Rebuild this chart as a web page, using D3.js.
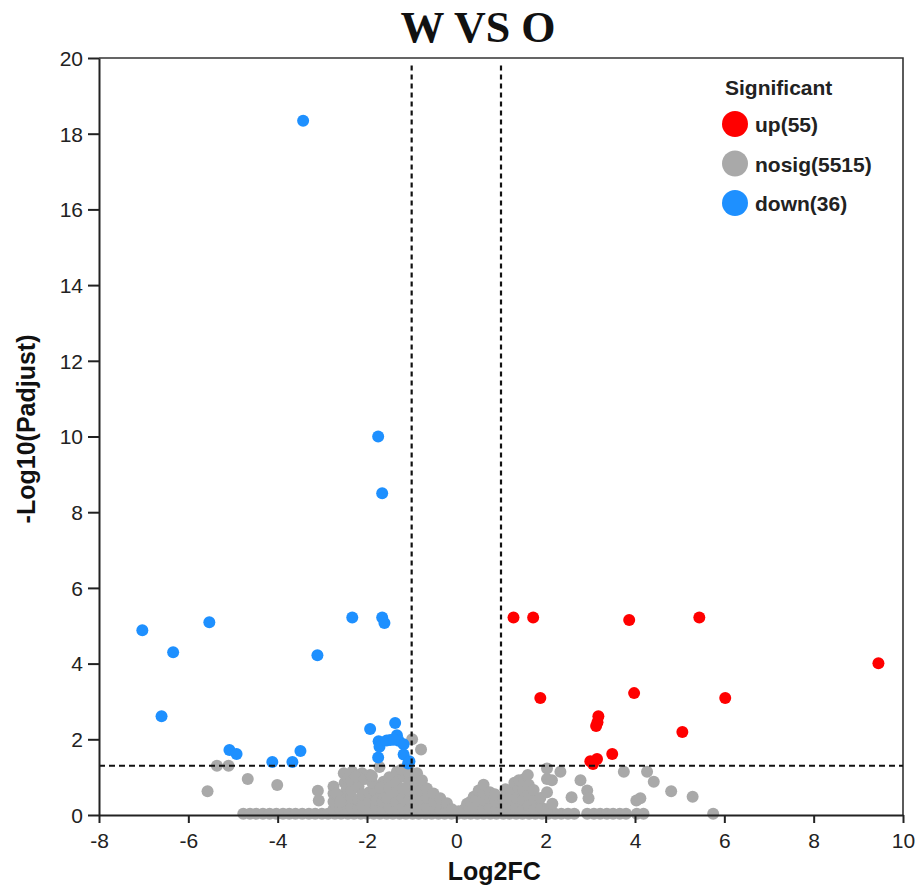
<!DOCTYPE html>
<meta charset="utf-8">
<style>
body { margin: 0; background: #fff; }
.axis text { font-family: Arial, "Liberation Sans", sans-serif; font-size: 21px; fill: #222; }
.axis path, .axis line { stroke: #222; stroke-width: 2px; }
.label { font-family: Arial, "Liberation Sans", sans-serif; font-weight: bold; font-size: 25px; fill: #111; }
.title { font-family: "Times New Roman", "Liberation Serif", serif; font-weight: bold; font-size: 44px; fill: #111; }
.legend text { font-family: Arial, "Liberation Sans", sans-serif; font-weight: bold; font-size: 21px; fill: #222; }
</style>
<svg width="919" height="886"></svg>
<script src="https://d3js.org/d3.v7.min.js"></script>
<script>

// [log2FC, -log10(Padjust)]
var downPoints = [
  [-3.43, 18.34], [-7.03, 4.88], [-5.53, 5.09], [-6.34, 4.30], [-6.60, 2.61],
  [-3.11, 4.22], [-2.33, 5.22], [-1.66, 5.22], [-1.61, 5.07], [-1.75, 10.0],
  [-1.66, 8.50], [-5.08, 1.72], [-4.92, 1.61], [-4.12, 1.40], [-3.67, 1.40],
  [-3.49, 1.69], [-1.93, 2.27], [-1.37, 2.43], [-1.74, 1.95], [-1.72, 1.80],
  [-1.48, 1.98], [-1.33, 2.11], [-1.29, 1.96], [-1.18, 1.87], [-1.18, 1.60],
  [-1.75, 1.52], [-1.08, 1.36], [-1.56, 1.97], [-1.40, 1.99], [-1.05, 1.42]
];

var upPoints = [
  [1.28, 5.22], [1.72, 5.22], [3.87, 5.15], [5.44, 5.22], [9.45, 4.01],
  [1.88, 3.09], [3.98, 3.22], [6.02, 3.09], [3.18, 2.61], [3.16, 2.45],
  [3.13, 2.35], [5.06, 2.19], [3.49, 1.61], [3.00, 1.42], [3.15, 1.48],
  [3.06, 1.35]
];

var nosigPoints = [
  // y = 0 row
  [-4.77, 0.03], [-4.62, 0.03], [-4.48, 0.03], [-4.33, 0.03], [-4.18, 0.03], [-4.03, 0.03],
  [-3.88, 0.03], [-3.74, 0.03], [-3.60, 0.03], [-3.45, 0.03], [-3.30, 0.03], [-3.16, 0.03],
  [-3.01, 0.03], [-2.87, 0.03], [-2.72, 0.03], [-2.58, 0.03], [-2.43, 0.03], [-2.29, 0.03],
  [-2.14, 0.03], [-2.00, 0.03], [-1.85, 0.03], [-1.71, 0.03], [-1.56, 0.03], [-1.42, 0.03],
  [-1.27, 0.03], [-1.13, 0.03], [-0.98, 0.03], [-0.84, 0.03], [-0.69, 0.03], [-0.55, 0.03],
  [-0.40, 0.03], [-0.26, 0.03], [-0.11, 0.03], [0.03, 0.03], [0.18, 0.03], [0.32, 0.03],
  [0.47, 0.03], [0.61, 0.03], [0.76, 0.03], [0.90, 0.03], [1.05, 0.03], [1.19, 0.03],
  [1.34, 0.03], [1.48, 0.03], [1.63, 0.03], [1.77, 0.03], [1.92, 0.03], [2.06, 0.03],
  [2.21, 0.03], [2.35, 0.03], [2.50, 0.03], [2.64, 0.03], [2.93, 0.03], [3.08, 0.03],
  [3.22, 0.03], [3.37, 0.03], [3.51, 0.03], [3.66, 0.03], [3.80, 0.03], [4.04, 0.03],
  [4.19, 0.03], [5.75, 0.03],
  // dense blob left of zero
  [-2.75, 0.15], [-2.75, 0.35], [-2.75, 0.57], [-2.75, 0.75],
  [-2.60, 0.15], [-2.60, 0.35], [-2.60, 0.50],
  [-2.50, 0.15], [-2.50, 0.30], [-2.50, 0.55], [-2.50, 0.85], [-2.52, 1.10],
  [-2.42, 0.98], [-2.45, 0.70],
  [-2.35, 0.20], [-2.35, 0.45], [-2.35, 0.65], [-2.35, 0.90], [-2.33, 1.14],
  [-2.20, 0.15], [-2.20, 0.40], [-2.19, 0.75], [-2.11, 1.10], [-2.25, 1.02],
  [-2.10, 0.25], [-2.10, 0.55], [-2.05, 0.95],
  [-1.95, 0.15], [-1.95, 0.35], [-1.95, 0.60], [-1.85, 0.66], [-1.93, 1.06],
  [-1.80, 0.20], [-1.80, 0.40], [-1.78, 0.40], [-1.88, 0.85],
  [-1.65, 0.15], [-1.65, 0.35], [-1.63, 0.55], [-1.63, 0.88], [-1.70, 0.72],
  [-1.50, 0.20], [-1.55, 0.45], [-1.50, 0.70], [-1.50, 1.00],
  [-1.35, 0.15], [-1.35, 0.35], [-1.35, 0.60], [-1.35, 0.85], [-1.33, 1.14],
  [-1.20, 0.20], [-1.20, 0.45], [-1.20, 0.70], [-1.18, 1.01], [-1.22, 1.20],
  [-1.05, 0.15], [-1.05, 0.40], [-1.05, 0.65], [-1.05, 0.90], [-1.05, 1.15],
  [-0.92, 0.20], [-0.92, 0.45], [-0.92, 0.70], [-0.92, 0.95], [-0.88, 1.10],
  [-0.78, 0.15], [-0.78, 0.40], [-0.78, 0.65], [-0.77, 0.92],
  [-0.65, 0.20], [-0.65, 0.45], [-0.66, 0.70],
  [-0.50, 0.15], [-0.50, 0.35], [-0.51, 0.57],
  [-0.36, 0.15], [-0.36, 0.30], [-0.36, 0.44],
  [-0.22, 0.12], [-0.21, 0.31], [-0.10, 0.15], [0.05, 0.10],
  // dense blob right of zero
  [0.18, 0.15], [0.24, 0.30],
  [0.30, 0.15], [0.32, 0.35], [0.39, 0.48],
  [0.45, 0.20], [0.45, 0.45], [0.50, 0.65],
  [0.60, 0.15], [0.60, 0.40], [0.61, 0.60], [0.61, 0.80],
  [0.75, 0.20], [0.75, 0.45], [0.75, 0.60],
  [0.90, 0.15], [0.88, 0.35], [0.86, 0.55],
  [1.05, 0.20], [1.05, 0.45], [1.10, 0.68],
  [1.20, 0.15], [1.20, 0.40], [1.22, 0.65], [1.30, 0.85],
  [1.35, 0.20], [1.35, 0.45], [1.40, 0.70], [1.40, 0.92],
  [1.50, 0.15], [1.50, 0.40], [1.50, 0.65], [1.52, 0.95],
  [1.62, 0.25], [1.62, 0.55], [1.62, 0.80], [1.60, 1.06],
  [1.75, 0.15], [1.75, 0.40], [1.73, 0.66],
  [1.90, 0.20], [1.88, 0.45],
  [2.03, 0.15], [2.03, 0.60], [2.03, 0.95], [2.03, 1.23],
  [2.15, 0.30], [2.14, 0.92],
  // sparse
  [2.33, 1.14], [2.58, 0.47], [2.78, 0.92], [2.93, 0.65], [2.96, 0.44],
  [3.75, 1.14], [4.03, 0.38], [4.12, 0.44], [4.27, 1.14], [4.42, 0.88],
  [4.81, 0.63], [5.29, 0.48],
  [-5.36, 1.30], [-5.10, 1.30], [-5.57, 0.63], [-4.67, 0.95], [-4.01, 0.79],
  [-3.10, 0.64], [-3.08, 0.38], [-2.69, 0.57], [-2.60, 0.35], [-1.72, 1.27],
  [-0.99, 2.00], [-0.79, 1.73], [-1.89, 1.03]
];

var groups = ["nosig", "up", "down"];
var legendLabels = ["up(55)", "nosig(5515)", "down(36)"];
var legendColors = ["#FF0000", "#A9A9A9", "#1E90FF"];
var xTicks = [-8, -6, -4, -2, 0, 2, 4, 6, 8, 10];
var yTicks = [0, 2, 4, 6, 8, 10, 12, 14, 16, 18, 20];
var fcCut = [-1, 1];
var padjCut = -Math.log10(0.05);

var svg = d3.select("svg"),
    margin = {top: 58, right: 16, bottom: 71, left: 99},
    width = +svg.attr("width") - margin.left - margin.right,
    height = +svg.attr("height") - margin.top - margin.bottom;

var x = d3.scaleLinear().domain([-8, 10]).range([0, width]),
    y = d3.scaleLinear().domain([0, 20]).range([height, 0]);

var color = d3.scaleOrdinal()
    .domain(["up", "nosig", "down"])
    .range(legendColors);

var plain = function(d) { return String(d); };

var g = svg.append("g")
    .attr("transform", "translate(" + margin.left + "," + margin.top + ")");

// top / right frame
g.append("path")
    .attr("d", "M0,0H" + width + "V" + height)
    .attr("fill", "none")
    .attr("stroke", "#333")
    .attr("stroke-width", 1.6);

var sets = {nosig: nosigPoints, up: upPoints, down: downPoints};

groups.forEach(function(key) {
  g.append("g").selectAll("circle")
    .data(sets[key])
    .enter().append("circle")
      .attr("cx", function(d) { return x(d[0]); })
      .attr("cy", function(d) { return y(d[1]); })
      .attr("r", 6)
      .attr("fill", color(key));
});

// threshold lines
g.selectAll(".vcut")
  .data(fcCut)
  .enter().append("line")
    .attr("x1", function(d) { return x(d); })
    .attr("x2", function(d) { return x(d); })
    .attr("y1", y(19.8))
    .attr("y2", height)
    .attr("stroke", "#111")
    .attr("stroke-width", 2.2)
    .attr("stroke-dasharray", "5,4");

g.append("line")
    .attr("x1", 0)
    .attr("x2", width)
    .attr("y1", y(padjCut))
    .attr("y2", y(padjCut))
    .attr("stroke", "#111")
    .attr("stroke-width", 2.2)
    .attr("stroke-dasharray", "6,4");

g.append("g")
    .attr("class", "axis")
    .attr("transform", "translate(0," + height + ")")
    .call(d3.axisBottom(x).tickValues(xTicks).tickFormat(plain)
      .tickSize(8).tickSizeOuter(0).tickPadding(9));

g.append("g")
    .attr("class", "axis")
    .call(d3.axisLeft(y).tickValues(yTicks).tickFormat(plain)
      .tickSize(11).tickSizeOuter(0).tickPadding(5));

g.selectAll(".axis .tick text").each(function() {
  var t = d3.select(this);
  if (t.attr("y") !== null && +t.attr("y") > 0) t.attr("dy", "0.75em");
  else t.attr("dy", "0.35em");
});

svg.append("text")
    .attr("class", "title")
    .attr("x", 478)
    .attr("y", 42)
    .attr("text-anchor", "middle")
    .text("W VS O");

svg.append("text")
    .attr("class", "label")
    .attr("x", margin.left + x(0.85))
    .attr("y", 880)
    .attr("text-anchor", "middle")
    .text("Log2FC");

svg.append("text")
    .attr("class", "label")
    .attr("transform", "translate(35," + (margin.top + y(10.2)) + ") rotate(-90)")
    .attr("text-anchor", "middle")
    .text("-Log10(Padjust)");

var legend = svg.append("g")
    .attr("class", "legend")
    .attr("transform", "translate(725,95)");

legend.append("text")
    .attr("x", 0)
    .attr("y", 0)
    .text("Significant");

var item = legend.selectAll(".item")
  .data(legendLabels)
  .enter().append("g")
    .attr("transform", function(d, i) { return "translate(0," + (29 + i * 39.5) + ")"; });

item.append("circle")
    .attr("cx", 10)
    .attr("cy", 0)
    .attr("r", 13)
    .attr("fill", function(d, i) { return legendColors[i]; });

item.append("text")
    .attr("x", 30)
    .attr("y", 8)
    .text(function(d) { return d; });

</script>
